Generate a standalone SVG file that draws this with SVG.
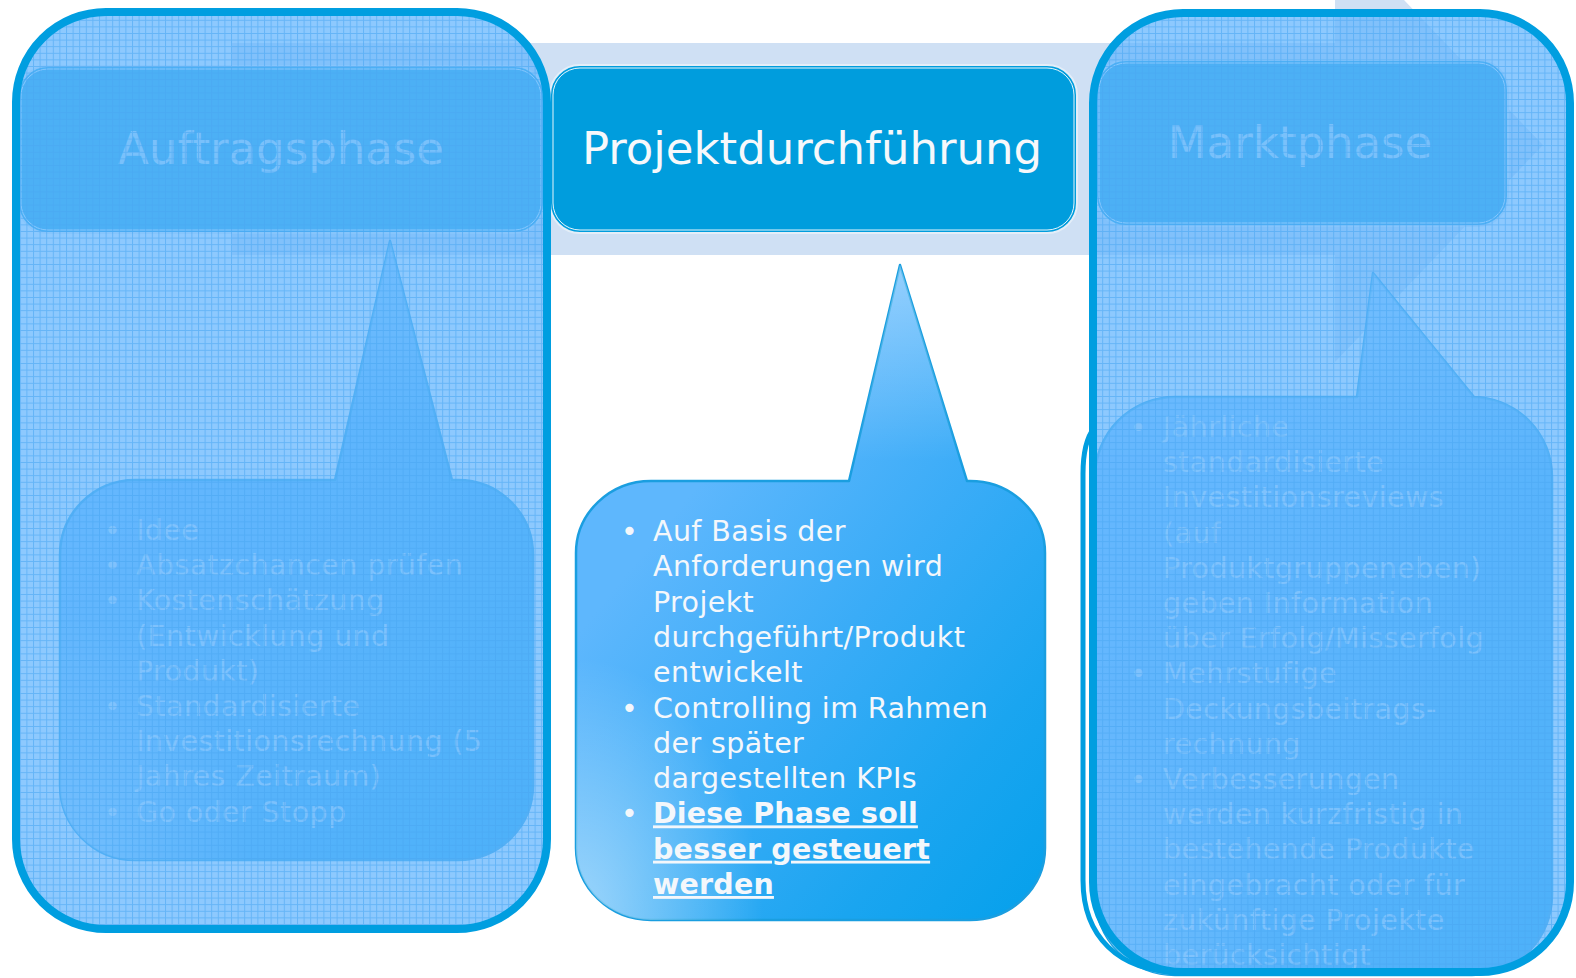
<svg xmlns="http://www.w3.org/2000/svg" width="1576" height="978" viewBox="0 0 1576 978">
  <style>
    .head { fill: #009ddd; stroke: #e4eef8; stroke-width: 2; }
    .head-inner { fill: none; stroke: #ffffff; stroke-width: 1; opacity: 0.9; }
    .title { font-family: "DejaVu Sans", Verdana, sans-serif; font-size: 45px; fill: #f6f8fb; text-anchor: middle; }
    .callout { fill: url(#calloutFill); stroke: #1a9ee0; stroke-width: 2.5; stroke-linejoin: round; }
    .tip-glow { fill: url(#tipGlow); }
    .corner-glow { fill: url(#cornerGlow); }
    .body { font-family: "DejaVu Sans", Verdana, sans-serif; font-size: 28.5px; letter-spacing: 0.4px; fill: #f4f7fb; }
    .strong { font-weight: bold; text-decoration: underline; letter-spacing: 0.2px; }
    .dim text { fill-opacity: 0.72; }
    .veil { fill: #66b7fe; opacity: 0.745; }
    .grid { fill: url(#gridLines); }
    .rim { fill: none; stroke: #009ee0; stroke-width: 8; }
  </style>
  <defs>
    <linearGradient id="calloutFill" x1="0.3" y1="0.3" x2="0.92" y2="1">
      <stop offset="0" stop-color="#5eb7fd"/>
      <stop offset="0.4" stop-color="#3aacf7"/>
      <stop offset="0.75" stop-color="#1aa5f0"/>
      <stop offset="1" stop-color="#08a1ec"/>
    </linearGradient>
    <linearGradient id="tipGlow" x1="0" y1="0" x2="0" y2="1">
      <stop offset="0" stop-color="#ffffff" stop-opacity="0.35"/>
      <stop offset="0.3" stop-color="#ffffff" stop-opacity="0"/>
    </linearGradient>
    <radialGradient id="cornerGlow" cx="0" cy="1" r="0.4">
      <stop offset="0" stop-color="#ffffff" stop-opacity="0.5"/>
      <stop offset="1" stop-color="#ffffff" stop-opacity="0"/>
    </radialGradient>
    <pattern id="gridLines" patternUnits="userSpaceOnUse" width="6.6" height="6.6">
      <path d="M0 0.5H6.6M0.5 0V6.6" stroke="#4aa6f2" stroke-width="1" stroke-opacity="0.6" fill="none"/>
    </pattern>
    <clipPath id="leftClip">
      <rect x="16" y="12" width="531" height="917" rx="90"/>
    </clipPath>
    <clipPath id="rightClip">
      <rect x="1093" y="13" width="477" height="959" rx="90"/>
    </clipPath>
    <path id="bubbleLeft" d="M135,480 L335,480 L390,241 L452,480 L458,480 A75,75 0 0 1 533,555 L533,785 A75,75 0 0 1 458,860 L135,860 A75,75 0 0 1 60,785 L60,555 A75,75 0 0 1 135,480 Z"/>
    <path id="bubbleMid" d="M652,481 L849,481 L900,265 L967,481 L970,481 A75,72 0 0 1 1045,553 L1045,848 A75,72 0 0 1 970,920 L651,920 A75,72 0 0 1 576,848 L576,553 A75,72 0 0 1 651,481 Z"/>
    <path id="bubbleRight" d="M1175,397 L1357,397 L1373,273 L1474,397 L1472,397 A80,80 0 0 1 1552,477 L1552,895 A80,80 0 0 1 1472,975 L1175,975 A80,80 0 0 1 1095,895 L1095,477 A80,80 0 0 1 1175,397 Z"/>
  </defs>

  <rect width="1576" height="978" fill="#ffffff"/>

  <!-- process arrow behind the phases -->
  <g id="process-arrow">
    <polygon points="232,43 1335,43 1335,-72 1543,145 1335,362 1335,255 232,255" fill="#cfe0f4"/>
  </g>

  <!-- phase headers -->
  <g id="auftragsphase" class="dim">
    <rect class="head" x="18" y="66" width="526" height="167" rx="30"/>
    <rect class="head-inner" x="21" y="69" width="520" height="161" rx="27"/>
    <text class="title" x="281" y="164">Auftragsphase</text>
  </g>
  <g id="projektdurchfuehrung">
    <rect class="head" x="550" y="65" width="527" height="168" rx="30"/>
    <rect class="head-inner" x="553" y="68" width="521" height="162" rx="27"/>
    <text class="title" x="812" y="164">Projektdurchführung</text>
  </g>
  <g id="marktphase" class="dim">
    <rect class="head" x="1096" y="60" width="412" height="166" rx="30"/>
    <rect class="head-inner" x="1099" y="63" width="406" height="160" rx="27"/>
    <text class="title" x="1300" y="158">Marktphase</text>
  </g>

  <!-- speech-bubble notes -->
  <g id="note-auftrag" class="dim">
    <use href="#bubbleLeft" class="callout"/>
    <use href="#bubbleLeft" class="tip-glow"/>
    <use href="#bubbleLeft" class="corner-glow"/>
    <text class="body" x="104" y="540">•</text>
    <text class="body" x="136" y="540">Idee</text>
    <text class="body" x="104" y="575.2">•</text>
    <text class="body" x="136" y="575.2">Absatzchancen prüfen</text>
    <text class="body" x="104" y="610.4">•</text>
    <text class="body" x="136" y="610.4">Kostenschätzung</text>
    <text class="body" x="136" y="645.6">(Entwicklung und</text>
    <text class="body" x="136" y="680.8">Produkt)</text>
    <text class="body" x="104" y="716">•</text>
    <text class="body" x="136" y="716">Standardisierte</text>
    <text class="body" x="136" y="751.2">Investitionsrechnung (5</text>
    <text class="body" x="136" y="786.4">Jahres Zeitraum)</text>
    <text class="body" x="104" y="821.6">•</text>
    <text class="body" x="136" y="821.6">Go oder Stopp</text>
  </g>

  <g id="note-projekt">
    <use href="#bubbleMid" class="callout"/>
    <use href="#bubbleMid" class="tip-glow"/>
    <use href="#bubbleMid" class="corner-glow"/>
    <text class="body" x="621" y="541">•</text>
    <text class="body" x="653" y="541">Auf Basis der</text>
    <text class="body" x="653" y="576.3">Anforderungen wird</text>
    <text class="body" x="653" y="611.6">Projekt</text>
    <text class="body" x="653" y="646.9">durchgeführt/Produkt</text>
    <text class="body" x="653" y="682.2">entwickelt</text>
    <text class="body" x="621" y="717.5">•</text>
    <text class="body" x="653" y="717.5">Controlling im Rahmen</text>
    <text class="body" x="653" y="752.8">der später</text>
    <text class="body" x="653" y="788.1">dargestellten KPIs</text>
    <text class="body" x="621" y="823.4">•</text>
    <text class="body strong" x="653" y="823.4">Diese Phase soll</text>
    <text class="body strong" x="653" y="858.7">besser gesteuert</text>
    <text class="body strong" x="653" y="894">werden</text>
  </g>

  <g id="note-markt" class="dim">
    <use href="#bubbleRight" class="callout"/>
    <use href="#bubbleRight" class="tip-glow"/>
    <use href="#bubbleRight" class="corner-glow"/>
    <text class="body" x="1130" y="437">•</text>
    <text class="body" x="1163" y="437">Jährliche</text>
    <text class="body" x="1163" y="472.2">standardisierte</text>
    <text class="body" x="1163" y="507.4">Investitionsreviews</text>
    <text class="body" x="1163" y="542.6">(auf</text>
    <text class="body" x="1163" y="577.8">Produktgruppeneben)</text>
    <text class="body" x="1163" y="613">geben Information</text>
    <text class="body" x="1163" y="648.2">über Erfolg/Misserfolg</text>
    <text class="body" x="1130" y="683.4">•</text>
    <text class="body" x="1163" y="683.4">Mehrstufige</text>
    <text class="body" x="1163" y="718.6">Deckungsbeitrags-</text>
    <text class="body" x="1163" y="753.8">rechnung</text>
    <text class="body" x="1130" y="789">•</text>
    <text class="body" x="1163" y="789">Verbesserungen</text>
    <text class="body" x="1163" y="824.2">werden kurzfristig in</text>
    <text class="body" x="1163" y="859.4">bestehende Produkte</text>
    <text class="body" x="1163" y="894.6">eingebracht oder für</text>
    <text class="body" x="1163" y="929.8">zukünftige Projekte</text>
    <text class="body" x="1163" y="965">berücksichtigt</text>
  </g>

  <!-- translucent gridded frames dimming the outer phases -->
  <g id="frame-left">
    <rect class="veil" x="16" y="12" width="531" height="917" rx="90"/>
    <rect class="grid" x="16" y="12" width="531" height="917" clip-path="url(#leftClip)"/>
    <rect class="rim" x="16" y="12" width="531" height="917" rx="90"/>
  </g>
  <g id="frame-right">
    <rect class="veil" x="1093" y="13" width="477" height="959" rx="90"/>
    <rect class="grid" x="1093" y="13" width="477" height="959" clip-path="url(#rightClip)"/>
    <path d="M1094,428 C1087,437 1083,452 1083,474 L1083,880 C1083,936 1118,972 1180,972 L1260,972" fill="none" stroke="#009ee0" stroke-width="5"/>
    <rect class="rim" x="1093" y="13" width="477" height="959" rx="90"/>
  </g>
</svg>
